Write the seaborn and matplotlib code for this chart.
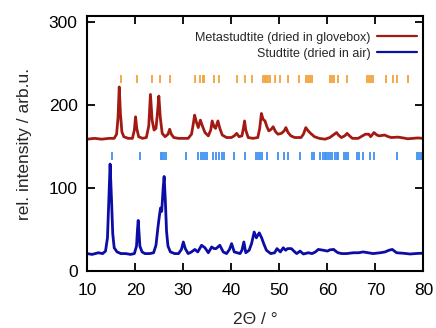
import numpy as np
import pandas as pd
import matplotlib
matplotlib.use("Agg")
import matplotlib.pyplot as plt
import seaborn as sns

# ---------------- data ----------------
meta_x = [10.0, 11.5, 13.0, 14.5, 15.6, 16.1, 16.4, 16.65, 16.9, 17.2, 17.6, 18.5, 19.4, 19.8,
          20.05, 20.3, 20.7, 21.5, 22.3, 22.8, 23.15, 23.5, 23.9, 24.3, 24.6, 24.9, 25.2, 25.6,
          26.2, 26.8, 27.15, 27.5, 28.0, 29.0, 30.0, 31.0, 31.7, 32.0, 32.35, 32.7, 33.1, 33.55,
          33.9, 34.5, 35.2, 35.7, 36.0, 36.4, 36.7, 37.2, 37.6, 38.1, 39.0, 40.0, 40.6, 41.1,
          41.6, 42.2, 42.5, 42.75, 43.0, 43.5, 44.5, 45.5, 45.9, 46.25, 46.6, 47.0, 47.4, 47.8,
          48.3, 48.7, 49.2, 49.7, 50.4, 51.0, 51.35, 51.8, 52.4, 53.2, 54.5, 55.0, 55.5, 56.0,
          56.5, 57.3, 58.3, 59.5, 60.5, 61.2, 61.9, 62.3, 62.9, 63.6, 64.1, 64.6, 65.2, 66.4,
          67.3, 67.9, 68.6, 69.0, 69.7, 70.3, 70.8, 71.9, 72.7, 73.3, 74.7, 75.8, 76.7, 77.8,
          78.8, 80.0]
meta_y = [159, 160, 159, 160, 160, 165, 185, 222, 190, 168, 162, 160, 160, 170,
          186, 172, 162, 160, 161, 175, 213, 182, 170, 172, 190, 211, 185, 166,
          162, 165, 171, 165, 161, 160, 160, 160, 165, 175, 188, 180, 173, 182,
          176, 167, 163, 170, 181, 174, 172, 181, 172, 164, 161, 161, 163, 166,
          162, 163, 172, 181, 170, 161, 160, 161, 172, 190, 183, 181, 174, 169,
          171, 174, 168, 165, 166, 169, 173, 167, 163, 161, 161, 165, 173, 169,
          166, 162, 160, 159, 161, 164, 167, 164, 161, 163, 166, 163, 160, 160,
          163, 165, 165, 162, 167, 164, 163, 164, 162, 161, 161.5, 160.5, 159.5, 160,
          160.5, 160]

stud_x = [10.0, 11.0, 12.3, 13.2, 13.8, 14.2, 14.45, 14.75, 15.05, 15.3, 15.6, 16.2, 17.0, 18.0,
          19.0, 19.8, 20.25, 20.45, 20.6, 20.75, 20.95, 21.4, 22.0, 23.0, 23.8, 24.3, 24.7, 25.0,
          25.25, 25.5, 25.8, 26.0, 26.25, 26.5, 26.8, 27.3, 28.2, 29.0, 29.6, 30.0, 30.4, 31.0,
          31.7, 32.4, 33.0, 33.8, 34.5, 35.2, 35.9, 36.4, 36.8, 37.6, 38.3, 39.0, 39.6, 40.05,
          40.6, 41.8, 42.2, 42.6, 43.0, 43.7, 44.2, 44.75, 45.2, 45.8, 46.3, 46.8, 47.3, 48.2,
          49.0, 49.5, 50.2, 50.8, 51.3, 51.7, 52.5, 53.2, 53.6, 54.3, 55.0, 56.0, 56.8, 57.5,
          58.1, 59.2, 60.0, 60.5, 61.3, 61.7, 62.2, 63.0, 64.0, 65.4, 66.5, 67.4, 68.5, 69.5,
          70.2, 71.0, 72.0, 72.8, 73.5, 74.4, 75.8, 77.2, 78.3, 79.4, 80.0]
stud_y = [21, 20, 22, 21, 24, 40, 80, 129, 85, 45, 28, 23, 21, 21,
          20, 21, 30, 50, 61, 48, 30, 23, 21, 21, 22, 31, 52, 66,
          76, 72, 100, 114, 85, 48, 30, 23, 21, 21, 26, 35, 27, 21,
          23, 26, 23, 31, 28, 22, 29, 27, 27, 31, 23, 21, 26, 33,
          23, 21, 25, 35, 22, 25, 33, 47, 40, 46, 40, 32, 25, 21,
          22, 27, 23, 28, 25, 27, 27, 23, 21, 24, 20.5, 22, 21, 23,
          26, 25, 24, 25.5, 26, 24, 22, 21, 21, 22, 22, 23, 22, 21,
          21.5, 22, 23, 25, 26, 22, 21.4, 20.5, 21, 21.4, 21]

meta_refl = [17.02, 20.25, 23.5, 25.2, 27.3, 32.4, 33.5, 34.0, 34.4, 36.3, 37.4, 41.1, 42.9,
             44.3, 46.6, 47.0, 47.3, 47.7, 48.0, 49.1, 50.2, 51.7, 54.1, 55.6, 56.0, 56.3,
             56.7, 60.6, 61.0, 61.4, 62.3, 64.1, 68.2, 68.6, 69.0, 69.5, 72.25, 73.7, 74.55,
             76.8]
stud_refl = [15.1, 21.05, 25.3, 25.6, 26.0, 26.4, 30.5, 33.1, 33.6, 34.0, 34.5, 34.9, 36.2,
             36.7, 37.5, 38.0, 38.5, 40.6, 42.9, 45.1, 45.5, 45.9, 46.4, 47.5, 49.8, 50.9,
             51.8, 54.2, 56.7, 57.2, 58.5, 59.0, 59.4, 59.8, 60.2, 60.6, 61.0, 61.5, 61.9,
             62.3, 63.4, 63.8, 64.2, 66.1, 66.6, 67.5, 68.8, 69.6, 74.5, 78.7, 79.0, 79.4]
meta_refl_range = (227, 237)
stud_refl_range = (134, 144)

labels = ["Metastudtite (dried in glovebox)", "Studtite (dried in air)"]
xticks = [10, 20, 30, 40, 50, 60, 70, 80]
yticks = [0, 100, 200, 300]

# ---------------- style ----------------
sns.set_theme(style="ticks")
plt.rcParams['font.family'] = ['Liberation Sans', 'DejaVu Sans']
plt.rcParams['axes.linewidth'] = 1.5

red = "#a31a12"
blue = "#0c0ca6"
orange = "#f2a33a"
lblue = "#3f91f2"

fig = plt.figure(figsize=(4.36, 3.28), dpi=100)
ax = fig.add_axes([0.2002, 0.1738, 0.7711, 0.7759])

df_m = pd.DataFrame({"x": meta_x, "y": meta_y})
df_s = pd.DataFrame({"x": stud_x, "y": stud_y})

sns.lineplot(data=df_m, x="x", y="y", color=red, lw=2.0, label=labels[0],
             estimator=None, sort=False, ax=ax)
sns.lineplot(data=df_s, x="x", y="y", color=blue, lw=2.0, label=labels[1],
             estimator=None, sort=False, ax=ax)

ax.vlines(meta_refl, *meta_refl_range, color=orange, lw=1.3)
ax.vlines(stud_refl, *stud_refl_range, color=lblue, lw=1.3)

ax.set_xlim(10, 80)
ax.set_ylim(0, 307)
ax.set_xticks(xticks)
ax.set_yticks(yticks)
ax.tick_params(direction="in", length=6, width=1.3, top=True, right=True,
               labelsize=12.5, colors="black")
ax.tick_params(axis="x", pad=9)
ax.tick_params(axis="y", pad=7)
for s in ax.spines.values():
    s.set_visible(True)
    s.set_color("black")
    s.set_linewidth(1.5)

ax.set_xlabel("2Θ / °", fontsize=12.5, labelpad=10)
ax.set_ylabel("rel. intensity / arb.u.", fontsize=12.5, labelpad=12)

leg = ax.legend(loc="upper right", bbox_to_anchor=(0.98, 0.94), frameon=False,
                markerfirst=False, fontsize=9, handlelength=3.2, handletextpad=0.5,
                labelspacing=0.3, borderpad=0, borderaxespad=0)
for h in leg.get_lines():
    h.set_linewidth(1.6)

fig.savefig("out.png", dpi=100)
